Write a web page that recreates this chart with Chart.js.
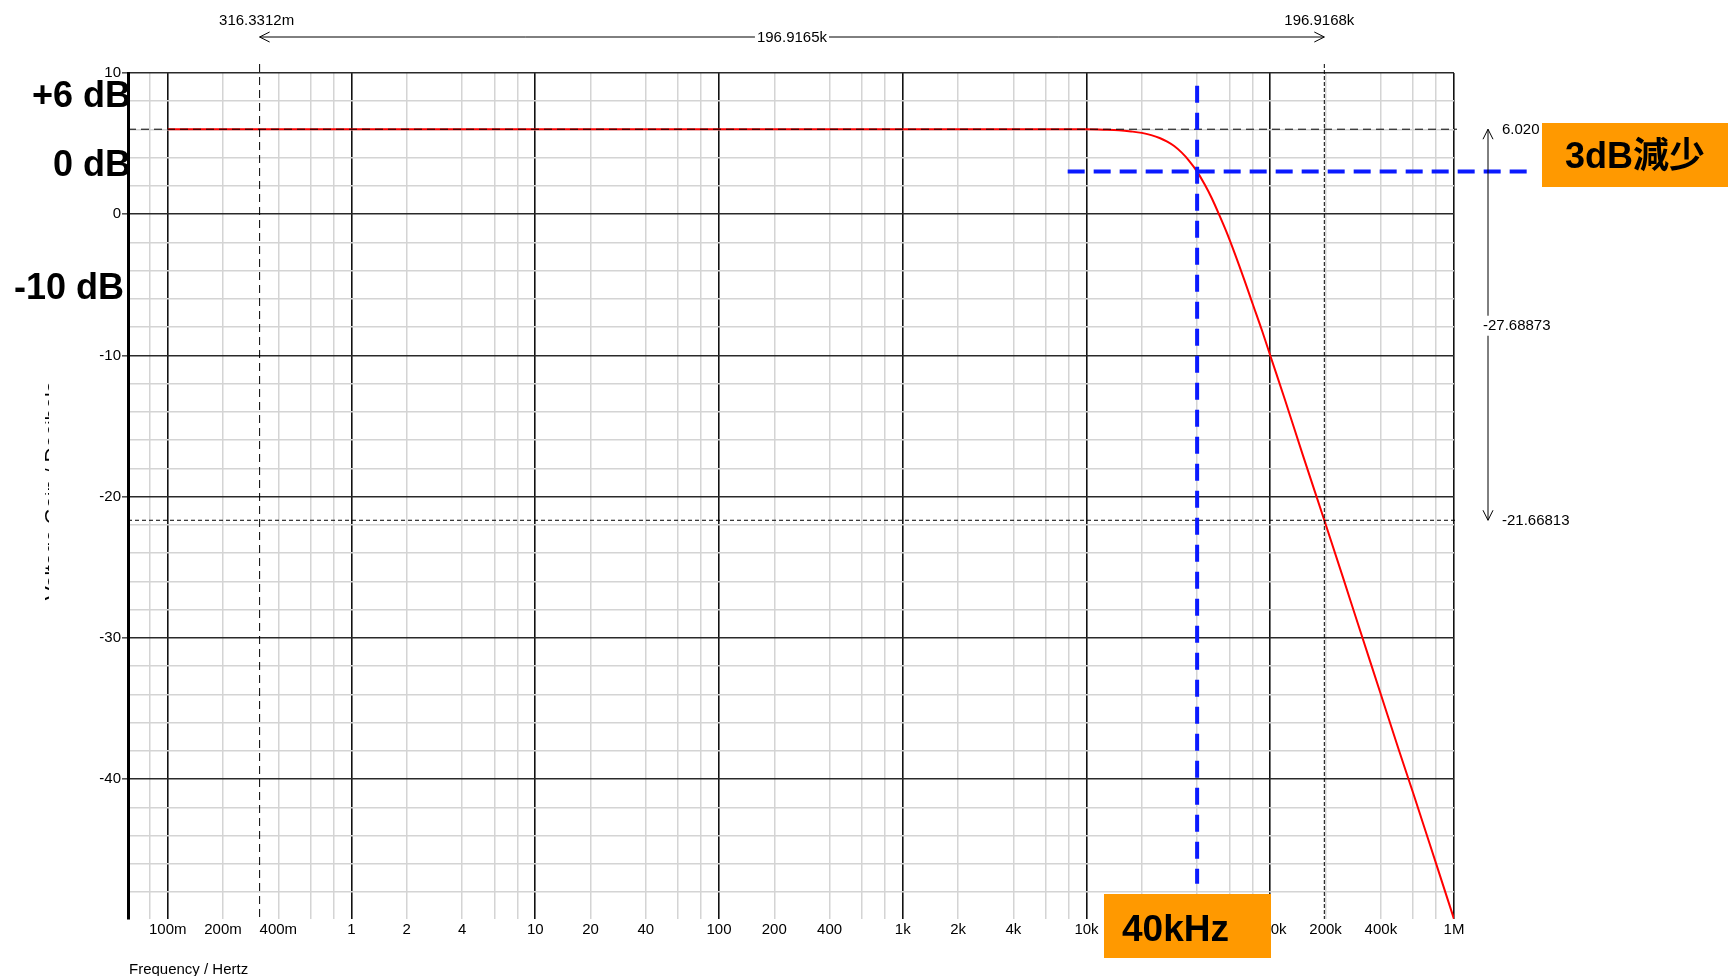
<!DOCTYPE html>
<html>
<head>
<meta charset="utf-8">
<title>Low-pass filter frequency response</title>
<script src="https://cdn.jsdelivr.net/npm/chart.js@4.4.1/dist/chart.umd.min.js"></script>
<style>
  html, body { margin: 0; padding: 0; background: #ffffff; overflow: hidden; }
  canvas { display: block; }
</style>
</head>
<body>
<canvas id="bode" width="1728" height="976"></canvas>
<script>
// Measured response of the 2nd-order low-pass stage (gain +6 dB, corner near 40 kHz)
const freqHz = [0.1, 1, 10, 100, 1000, 5000, 10000, 12500, 15000, 17500, 20000, 22500, 25000, 27500,
  30000, 33000, 36000, 40000, 44000, 48000, 53000, 58000, 64000, 72500, 80000, 90000, 100000,
  120000, 150000, 196916.8, 250000, 300000, 400000, 500000, 600000, 800000, 1000000];
const gainDb = [6.02, 6.02, 6.02, 6.02, 6.02, 6.02, 6.01, 5.98, 5.94, 5.86, 5.76, 5.60, 5.40, 5.14,
  4.83, 4.36, 3.82, 3.02, 2.1, 1.15, -0.1, -1.3, -2.75, -4.7, -6.3, -8.2, -10.0,
  -13.1, -17.0, -21.66813, -25.8, -29.0, -34.0, -37.9, -41.0, -46.0, -49.9];

// Frequency axis grid (1-2-4-6-8 per decade) and its labels
const xTickValues = [0.08, 0.1, 0.2, 0.4, 0.6, 0.8, 1, 2, 4, 6, 8, 10, 20, 40, 60, 80,
  100, 200, 400, 600, 800, 1e3, 2e3, 4e3, 6e3, 8e3, 1e4, 2e4, 4e4, 6e4, 8e4,
  1e5, 2e5, 4e5, 6e5, 8e5, 1e6];
const xTickLabels = ['', '100m', '200m', '400m', '', '', '1', '2', '4', '', '', '10', '20', '40', '', '',
  '100', '200', '400', '', '', '1k', '2k', '4k', '', '', '10k', '20k', '40k', '', '',
  '100k', '200k', '400k', '', '', '1M'];

// Gain axis grid every 2 dB, labelled every 10 dB
const yTickValues = [-48, -46, -44, -42, -40, -38, -36, -34, -32, -30, -28, -26, -24, -22, -20,
  -18, -16, -14, -12, -10, -8, -6, -4, -2, 0, 2, 4, 6, 8, 10];
const yTickLabels = ['', '', '', '', '-40', '', '', '', '', '-30', '', '', '', '', '-20',
  '', '', '', '', '-10', '', '', '', '', '0', '', '', '', '', '10'];

// Cursor readings
const cursorFreqHz = [0.3163312, 196916.8];
const cursorFreqLabels = ['316.3312m', '196.9168k'];
const cursorSpanLabel = '196.9165k';
const cursorGainDb = [6.020, -21.66813];
const cursorGainLabels = ['6.020', '-21.66813'];
const cursorDeltaLabel = '-27.68873';

// -3 dB corner markers
const cornerHz = 40000;
const cornerDb = 3.02;
const cornerLabel = '40kHz';
const dropLabel = '3dB減少';
const levelLabels = ['+6 dB', '0 dB', '-10 dB'];

const isDecade = v => Math.abs(Math.log10(v) - Math.round(Math.log10(v))) < 1e-9;
const FONT = '"Liberation Sans", Arial, Helvetica, sans-serif';

function dashed(ctx, x1, y1, x2, y2, dash) {
  ctx.setLineDash(dash);
  ctx.beginPath();
  ctx.moveTo(x1, y1);
  ctx.lineTo(x2, y2);
  ctx.stroke();
  ctx.setLineDash([]);
}

function chevron(ctx, tx, ty, dx, dy) {
  // open arrowhead with its tip at (tx, ty), pointing along (dx, dy)
  const len = 10, half = 5;
  const bx = tx - dx * len, by = ty - dy * len;
  ctx.beginPath();
  ctx.moveTo(bx - dy * half, by + dx * half);
  ctx.lineTo(tx, ty);
  ctx.lineTo(bx + dy * half, by - dx * half);
  ctx.stroke();
}

function labelWithGap(ctx, text, cx, cy, align) {
  const w = ctx.measureText(text).width;
  const left = align === 'left' ? cx : cx - w / 2;
  ctx.fillStyle = '#ffffff';
  ctx.fillRect(left - 2, cy - 10, w + 4, 20);
  ctx.fillStyle = '#000000';
  ctx.textAlign = align;
  ctx.fillText(text, cx, cy);
}

const annotations = {
  id: 'annotations',
  afterDatasetsDraw(chart) {
    const { ctx, chartArea: ca, scales: { x, y } } = chart;
    ctx.save();
    ctx.strokeStyle = '#000000';
    ctx.lineWidth = 1;
    const xa = x.getPixelForValue(cursorFreqHz[0]);
    const xb = x.getPixelForValue(cursorFreqHz[1]);
    const ya = y.getPixelForValue(cursorGainDb[0]);
    const yb = y.getPixelForValue(cursorGainDb[1]);
    dashed(ctx, xa, 64, xa, ca.bottom, [8, 5]);
    dashed(ctx, xb, 64, xb, ca.bottom, [4, 2]);
    dashed(ctx, ca.left, ya, ca.right + 3, ya, [8, 5]);
    dashed(ctx, ca.left, yb, ca.right + 3, yb, [4, 3]);

    // corner markers
    ctx.strokeStyle = '#0a1aff';
    ctx.lineWidth = 4;
    const xc = x.getPixelForValue(cornerHz);
    const yc = y.getPixelForValue(cornerDb);
    dashed(ctx, x.getPixelForValue(7900), yc, 1533, yc, [17, 9]);
    dashed(ctx, xc, y.getPixelForValue(9.1), xc, y.getPixelForValue(-47.4), [17, 10]);
    ctx.restore();
  },
  afterDraw(chart) {
    const { ctx, chartArea: ca, scales: { x, y } } = chart;
    ctx.save();
    const xa = x.getPixelForValue(cursorFreqHz[0]);
    const xb = x.getPixelForValue(cursorFreqHz[1]);
    const ya = y.getPixelForValue(cursorGainDb[0]);
    const yb = y.getPixelForValue(cursorGainDb[1]);
    ctx.strokeStyle = '#000000';
    ctx.lineWidth = 1;
    ctx.font = '15px ' + FONT;
    ctx.textBaseline = 'middle';
    ctx.fillStyle = '#000000';

    // horizontal span between frequency cursors
    const ySpan = 37;
    ctx.beginPath();
    ctx.moveTo(xa, ySpan);
    ctx.lineTo(xb, ySpan);
    ctx.stroke();
    chevron(ctx, xa, ySpan, -1, 0);
    chevron(ctx, xb, ySpan, 1, 0);
    ctx.textAlign = 'center';
    ctx.fillText(cursorFreqLabels[0], xa - 3, 21);
    ctx.fillText(cursorFreqLabels[1], xb - 5, 21);
    labelWithGap(ctx, cursorSpanLabel, (xa + xb) / 2, ySpan + 1, 'center');

    // vertical span between gain cursors
    const xSpan = ca.right + 34;
    ctx.beginPath();
    ctx.moveTo(xSpan, ya);
    ctx.lineTo(xSpan, yb);
    ctx.stroke();
    chevron(ctx, xSpan, ya, 0, -1);
    chevron(ctx, xSpan, yb, 0, 1);
    ctx.textAlign = 'left';
    ctx.fillText(cursorGainLabels[0], xSpan + 14, ya + 1);
    ctx.fillText(cursorGainLabels[1], xSpan + 14, yb + 1);
    labelWithGap(ctx, cursorDeltaLabel, xSpan - 5, (ya + yb) / 2 + 1, 'left');

    // axis titles
    ctx.textAlign = 'left';
    ctx.textBaseline = 'alphabetic';
    ctx.fillText('Frequency / Hertz', ca.left + 1, 974);
    ctx.save();
    ctx.beginPath();
    ctx.rect(45, 380, 4, 225);
    ctx.clip();
    ctx.translate(59, 491);
    ctx.rotate(-Math.PI / 2);
    ctx.textAlign = 'center';
    ctx.font = '21px ' + FONT;
    ctx.fillText('Voltage Gain / Decibels', 0, 0);
    ctx.restore();

    // level call-outs
    ctx.font = 'bold 36px ' + FONT;
    ctx.textAlign = 'right';
    ctx.fillStyle = '#000000';
    ctx.fillText(levelLabels[0], 131, 107);
    ctx.fillText(levelLabels[1], 131, 176);
    ctx.fillText(levelLabels[2], 124, 299);

    // highlight boxes
    ctx.fillStyle = '#ff9900';
    ctx.fillRect(1542, 123, 186, 64);
    ctx.fillRect(1104, 894, 167, 64);
    ctx.fillStyle = '#000000';
    ctx.font = 'bold 36px ' + FONT + ', "Noto Sans CJK SC"';
    ctx.textAlign = 'center';
    ctx.fillText(dropLabel, 1635, 168);
    ctx.textAlign = 'left';
    ctx.font = 'bold 37px ' + FONT;
    ctx.fillText(cornerLabel, 1122, 941);
    ctx.restore();
  }
};

new Chart(document.getElementById('bode'), {
  type: 'line',
  data: {
    datasets: [{
      data: freqHz.map((f, i) => ({ x: f, y: gainDb[i] })),
      borderColor: '#ff0000',
      borderWidth: 2,
      pointRadius: 0,
      cubicInterpolationMode: 'monotone',
      fill: false
    }]
  },
  options: {
    responsive: false,
    animation: false,
    devicePixelRatio: 1,
    layout: { padding: { left: 0, right: 274, top: 73, bottom: 0 } },
    plugins: { legend: { display: false }, tooltip: { enabled: false } },
    scales: {
      x: {
        type: 'logarithmic',
        min: 0.0608,
        max: 1e6,
        afterBuildTicks: s => { s.ticks = xTickValues.map(v => ({ value: v })); },
        afterFit: s => { s.height = 57; },
        border: { display: false },
        grid: {
          drawTicks: false,
          color: c => (c.tick && isDecade(c.tick.value)) ? '#111111' : '#d4d4d4',
          lineWidth: c => (c.tick && isDecade(c.tick.value)) ? 1.6 : 1.5
        },
        ticks: {
          autoSkip: false,
          maxRotation: 0,
          minRotation: 0,
          padding: 2,
          color: '#000000',
          font: { family: FONT, size: 15 },
          callback: (v, i) => xTickLabels[i]
        }
      },
      y: {
        type: 'linear',
        min: -49.9,
        max: 10,
        afterBuildTicks: s => { s.ticks = yTickValues.map(v => ({ value: v })); },
        afterFit: s => { s.width = 128; },
        border: { display: true, color: '#000000', width: 3 },
        grid: {
          tickLength: 6,
          color: c => (c.tick && c.tick.value % 10 === 0) ? '#2a2a2a' : '#d4d4d4',
          lineWidth: c => (c.tick && c.tick.value % 10 === 0) ? 1.6 : 1.5,
          tickColor: c => (c.tick && c.tick.value % 10 === 0) ? '#555555' : 'rgba(0,0,0,0)'
        },
        ticks: {
          autoSkip: false,
          padding: 1,
          color: '#000000',
          font: { family: FONT, size: 15 },
          callback: (v, i) => yTickLabels[i]
        }
      }
    }
  },
  plugins: [annotations]
});
</script>
</body>
</html>
